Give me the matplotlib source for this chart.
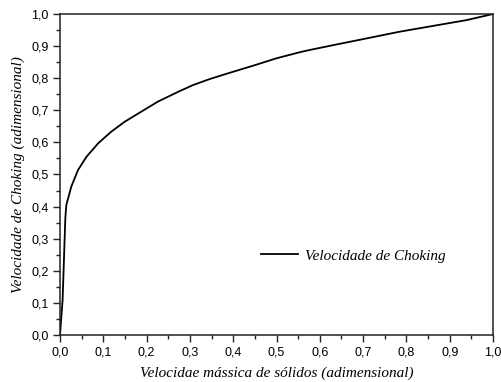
import matplotlib
matplotlib.use("Agg")
import matplotlib.pyplot as plt
from matplotlib.ticker import MultipleLocator, FuncFormatter

x_vals = [0.0, 0.006, 0.0123, 0.0146, 0.026, 0.0416, 0.061, 0.088, 0.118, 0.149,
          0.188, 0.226, 0.249, 0.275, 0.308, 0.345, 0.385, 0.446, 0.50, 0.554, 0.577,
          0.631, 0.708, 0.785, 0.862, 0.939, 1.0]
y_vals = [0.0, 0.109, 0.364, 0.405, 0.462, 0.514, 0.555, 0.597, 0.633, 0.664,
          0.696, 0.727, 0.742, 0.759, 0.779, 0.797, 0.814, 0.839, 0.862, 0.881, 0.888,
          0.903, 0.924, 0.945, 0.963, 0.981, 1.0]
series_name = "Velocidade de Choking"
x_label = "Velocidae mássica de sólidos (adimensional)"
y_label = "Velocidade de Choking (adimensional)"

fig = plt.figure(figsize=(5.02, 3.82), dpi=100)
ax = fig.add_axes([60/502, 1-335/382, 433/502, 321/382])

ax.plot(x_vals, y_vals, color="black", lw=1.3, label=series_name)
ax.set_xlim(0, 1)
ax.set_ylim(0, 1)

fmt = FuncFormatter(lambda v, p: f"{v:.1f}".replace(".", ","))
ax.xaxis.set_major_locator(MultipleLocator(0.1))
ax.xaxis.set_minor_locator(MultipleLocator(0.05))
ax.yaxis.set_major_locator(MultipleLocator(0.1))
ax.yaxis.set_minor_locator(MultipleLocator(0.05))
ax.xaxis.set_major_formatter(fmt)
ax.yaxis.set_major_formatter(fmt)
ax.tick_params(which="both", direction="out", top=False, right=False, color="#222222")
ax.tick_params(which="major", length=5, width=1, labelsize=9,
               labelfontfamily="Liberation Sans", pad=3)
ax.tick_params(which="minor", length=3, width=1)
for s in ax.spines.values():
    s.set_linewidth(1.1)
    s.set_color("#222222")

ax.set_xlabel(x_label, family="Liberation Serif", style="italic", fontsize=11, labelpad=6)
ax.set_ylabel(y_label, family="Liberation Serif", style="italic", fontsize=11, labelpad=5)

leg = ax.legend(loc="center left", bbox_to_anchor=(201/433, (335-256)/321), frameon=False,
                prop={"family": "Liberation Serif", "style": "italic", "size": 11},
                handlelength=2.4, handletextpad=0.45, borderaxespad=0,
                borderpad=0)

fig.savefig("out.png", dpi=100)
